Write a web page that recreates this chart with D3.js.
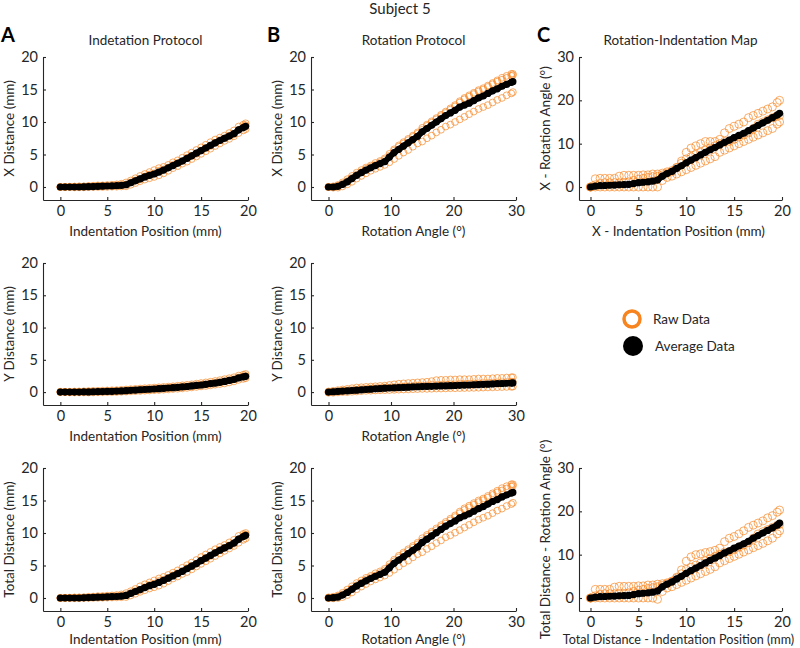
<!DOCTYPE html>
<html><head><meta charset="utf-8">
<script src="https://cdn.jsdelivr.net/npm/d3@7"></script>
<style>body{margin:0;background:#fff;} svg{display:block;font-family:Lato,"Open Sans",sans-serif;}</style>
</head><body>
<svg id="chart" width="800" height="648"></svg>
<script>
// ---------- DATA ----------
const indentPos = [0,0.5,1,1.5,2,2.5,3,3.5,4,4.5,5,5.5,6,6.5,7,7.5,8,8.5,9,9.5,10,10.5,11,11.5,12,12.5,13,13.5,14,14.5,15,15.5,16,16.5,17,17.5,18,18.5,19,19.5,19.75];
const rotAngle = [0,0.75,1.5,2.25,3,3.75,4.5,5.25,6,6.75,7.5,8.25,9,9.75,10.5,11.25,12,12.75,13.5,14.25,15,15.75,16.5,17.25,18,18.75,19.5,20.25,21,21.75,22.5,23.25,24,24.75,25.5,26.25,27,27.75,28.5,29.25,29.5];

const tickIndent = [0,5,10,15,20];
const tickRot = [0,10,20,30];
const tickDist = [0,5,10,15,20];
const tickMapY = [0,10,20,30];

// Panel A: indentation protocol
const aXAvg = [0,0,0,0,0,0.02,0.05,0.07,0.1,0.12,0.15,0.17,0.2,0.25,0.35,0.65,0.95,1.25,1.55,1.8,2.0,2.3,2.6,2.95,3.3,3.65,4.0,4.4,4.8,5.2,5.6,6.0,6.4,6.8,7.15,7.5,7.85,8.2,8.8,9.15,9.35];
const aXRaw1 = [0,0,0.05,0.05,0.1,0.1,0.15,0.2,0.25,0.25,0.3,0.35,0.4,0.5,0.7,1.0,1.35,1.7,2.0,2.3,2.6,2.9,3.1,3.4,3.8,4.1,4.5,4.9,5.3,5.7,6.1,6.5,6.9,7.3,7.6,7.9,8.3,8.7,9.3,9.6,9.8];
const aXRaw2 = [0,0,0,-0.05,-0.05,-0.05,0,0,0,0,0.02,0.05,0.05,0.08,0.1,0.35,0.6,0.9,1.15,1.35,1.55,1.8,2.1,2.5,2.9,3.2,3.6,3.9,4.3,4.7,5.1,5.5,5.9,6.3,6.7,7.1,7.4,7.8,8.3,8.7,8.9];
const aXRaw3 = [0,0.02,0.02,0.05,0.05,0.08,0.1,0.1,0.15,0.15,0.2,0.2,0.25,0.3,0.4,0.7,1.0,1.2,1.6,1.9,2.1,2.5,2.7,3.0,3.4,3.7,4.0,4.5,4.8,5.1,5.6,6.0,6.3,6.8,7.2,7.5,7.9,8.1,8.8,9.2,9.5];

const aYAvg = [0,0,0,0,0,0.02,0.03,0.05,0.06,0.08,0.1,0.12,0.15,0.18,0.22,0.27,0.32,0.36,0.4,0.44,0.48,0.53,0.58,0.63,0.68,0.74,0.8,0.87,0.95,1.03,1.1,1.2,1.3,1.4,1.52,1.65,1.8,1.95,2.2,2.35,2.45];
const aYRaw1 = [0.05,0.05,0.05,0.08,0.1,0.12,0.15,0.18,0.2,0.22,0.25,0.28,0.3,0.35,0.4,0.45,0.5,0.55,0.6,0.65,0.7,0.75,0.8,0.85,0.9,0.98,1.05,1.12,1.2,1.3,1.4,1.5,1.6,1.72,1.85,2.0,2.15,2.3,2.55,2.7,2.8];
const aYRaw2 = [0,0,-0.05,-0.05,-0.05,-0.05,-0.05,-0.05,-0.03,-0.02,0,0,0.02,0.05,0.08,0.12,0.15,0.18,0.22,0.25,0.3,0.33,0.38,0.42,0.48,0.52,0.58,0.65,0.72,0.8,0.88,0.95,1.05,1.15,1.25,1.35,1.5,1.65,1.9,2.05,2.15];
const aYRaw3 = [0,0.02,0,0.02,0.03,0.04,0.05,0.08,0.08,0.1,0.12,0.15,0.15,0.2,0.25,0.28,0.32,0.38,0.4,0.45,0.5,0.55,0.58,0.65,0.7,0.75,0.82,0.88,0.95,1.05,1.12,1.22,1.32,1.42,1.55,1.68,1.82,2.0,2.25,2.4,2.5];

const aTAvg = [0,0,0,0,0,0.03,0.06,0.09,0.12,0.15,0.18,0.2,0.23,0.28,0.4,0.7,1.0,1.3,1.6,1.9,2.1,2.4,2.7,3.05,3.4,3.75,4.1,4.5,4.9,5.3,5.75,6.15,6.55,6.95,7.35,7.7,8.05,8.45,9.05,9.45,9.65];
const aTRaw1 = [0,0.02,0.05,0.08,0.1,0.12,0.18,0.22,0.28,0.3,0.35,0.4,0.45,0.55,0.75,1.05,1.4,1.8,2.1,2.4,2.7,3.0,3.25,3.55,3.9,4.25,4.65,5.05,5.45,5.85,6.3,6.7,7.1,7.5,7.85,8.15,8.55,8.95,9.55,9.85,10.0];
const aTRaw2 = [0,0,0,-0.03,-0.03,0,0,0.02,0.03,0.05,0.06,0.08,0.1,0.12,0.15,0.4,0.65,0.95,1.2,1.45,1.65,1.9,2.2,2.6,3.0,3.3,3.7,4.0,4.4,4.85,5.25,5.65,6.05,6.45,6.85,7.25,7.6,8.0,8.5,8.95,9.15];
const aTRaw3 = [0,0.02,0.02,0.05,0.06,0.08,0.1,0.12,0.17,0.18,0.22,0.24,0.28,0.33,0.45,0.75,1.05,1.25,1.65,2.0,2.2,2.6,2.8,3.1,3.5,3.8,4.15,4.6,4.95,5.25,5.75,6.15,6.45,6.95,7.4,7.7,8.1,8.35,9.05,9.45,9.75];

// Panel B: rotation protocol
const bXAvg = [0,0,0.1,0.4,0.8,1.3,1.8,2.2,2.6,2.95,3.3,3.6,3.9,4.6,5.3,5.8,6.3,6.8,7.3,7.8,8.5,9.0,9.5,10.0,10.5,11.0,11.4,11.8,12.3,12.6,12.9,13.3,13.7,14.0,14.4,14.8,15.1,15.5,15.8,16.1,16.2];
const bXRaw1 = [0,0.1,0.3,0.7,1.2,1.7,2.2,2.6,3.0,3.3,3.7,4.0,4.4,5.1,5.8,6.4,6.9,7.4,7.9,8.4,9.1,9.6,10.1,10.6,11.1,11.6,12.1,12.6,13.2,13.7,14.1,14.5,14.9,15.2,15.6,16.0,16.4,16.8,17.1,17.4,17.4];
const bXRaw2 = [0,-0.1,-0.1,0.1,0.4,0.8,1.3,1.7,2.1,2.5,2.8,3.1,3.4,3.8,4.3,4.8,5.3,5.7,6.2,6.7,7.0,7.5,7.9,8.4,8.8,9.3,9.6,10.0,10.4,10.8,11.2,11.6,12.0,12.3,12.6,13.0,13.4,13.7,14.1,14.4,14.6];
const bXRaw3 = [0,0,0.2,0.5,0.9,1.4,1.9,2.3,2.8,3.1,3.4,3.8,4.2,4.8,5.6,6.2,6.7,7.2,7.7,8.2,8.8,9.4,9.9,10.4,10.9,11.4,11.9,12.4,13.0,13.5,13.9,14.3,14.7,15.0,15.4,15.8,16.2,16.5,16.8,17.1,17.2];

const bYAvg = [0,0.05,0.1,0.15,0.2,0.25,0.3,0.35,0.4,0.45,0.5,0.55,0.6,0.63,0.66,0.7,0.73,0.76,0.8,0.83,0.86,0.88,0.9,0.93,0.95,0.97,1.0,1.02,1.05,1.08,1.1,1.13,1.16,1.2,1.23,1.27,1.3,1.33,1.37,1.4,1.42];
const bYRaw1 = [0.1,0.2,0.3,0.4,0.5,0.6,0.7,0.75,0.8,0.85,0.9,0.95,1.0,1.1,1.2,1.3,1.35,1.4,1.45,1.5,1.55,1.6,1.7,1.85,1.9,1.9,1.95,1.95,2.0,2.0,2.0,2.05,2.1,2.1,2.1,2.15,2.2,2.2,2.25,2.3,2.3];
const bYRaw2 = [-0.1,-0.1,-0.05,0,0,0.05,0.1,0.15,0.2,0.22,0.25,0.28,0.3,0.32,0.35,0.38,0.4,0.42,0.45,0.47,0.5,0.5,0.52,0.55,0.55,0.57,0.6,0.6,0.62,0.63,0.65,0.66,0.68,0.7,0.72,0.74,0.76,0.78,0.8,0.82,0.85];
const bYRaw3 = [0,0.05,0.1,0.2,0.25,0.3,0.35,0.45,0.5,0.55,0.6,0.65,0.7,0.7,0.75,0.8,0.85,0.9,0.95,1.0,1.0,1.05,1.1,1.1,1.12,1.15,1.2,1.2,1.25,1.28,1.3,1.33,1.35,1.4,1.42,1.45,1.5,1.52,1.55,1.6,1.6];

const bTAvg = [0,0.05,0.15,0.45,0.85,1.35,1.85,2.25,2.65,3.0,3.35,3.65,3.95,4.65,5.35,5.85,6.35,6.85,7.35,7.85,8.55,9.05,9.55,10.05,10.55,11.05,11.45,11.85,12.35,12.65,12.95,13.35,13.75,14.05,14.45,14.85,15.15,15.55,15.85,16.15,16.25];
const bTRaw1 = [0.1,0.2,0.4,0.8,1.3,1.8,2.3,2.7,3.1,3.4,3.8,4.1,4.5,5.2,5.9,6.5,7.0,7.5,8.0,8.5,9.2,9.7,10.2,10.7,11.2,11.7,12.2,12.7,13.3,13.8,14.2,14.6,15.0,15.3,15.7,16.1,16.5,16.9,17.2,17.5,17.5];
const bTRaw2 = [0,-0.05,0,0.15,0.45,0.85,1.35,1.75,2.15,2.55,2.85,3.15,3.45,3.85,4.35,4.85,5.35,5.75,6.25,6.75,7.05,7.55,7.95,8.45,8.85,9.35,9.65,10.05,10.45,10.85,11.25,11.65,12.05,12.35,12.65,13.05,13.45,13.75,14.15,14.45,14.65];
const bTRaw3 = [0,0.05,0.25,0.55,0.95,1.45,1.95,2.35,2.85,3.15,3.45,3.85,4.25,4.85,5.65,6.25,6.75,7.25,7.75,8.25,8.85,9.45,9.95,10.45,10.95,11.45,11.95,12.45,13.05,13.55,13.95,14.35,14.75,15.05,15.45,15.85,16.25,16.55,16.85,17.15,17.25];

// Panel C: rotation-indentation map
const cXAvg = [0,0.2,0.3,0.35,0.4,0.45,0.5,0.55,0.6,0.8,1.0,1.1,1.2,1.35,1.6,2.5,3.1,3.6,4.3,4.9,5.6,6.2,6.8,7.4,8.0,8.6,9.1,9.7,10.3,10.8,11.4,11.9,12.4,13.0,13.6,14.2,14.8,15.4,16.0,16.6,17.0];
const cXRaw1 = [0,1.9,2.0,2.0,2.0,2.0,2.5,2.7,2.7,2.7,2.7,2.8,2.8,3.0,3.0,3.2,3.5,3.5,4.5,6.0,8.0,9.0,9.5,10.0,10.5,10.5,10.5,11.0,12.5,13.5,14.0,14.5,15.0,16.0,16.5,17.0,17.5,18.0,18.5,19.5,20.0];
const cXRaw2 = [0,0,0,0,0,0,0,0,0,0,0,0,0,0,0,1.5,2.2,2.5,3.0,3.5,4.0,4.5,5.0,5.5,6.0,6.5,7.0,8.0,8.5,9.0,9.5,10.0,10.5,11.0,11.5,12.0,12.5,13.0,13.5,14.5,15.0];
const cXRaw3 = [0,0.5,0.8,1.0,1.0,1.0,1.0,1.0,1.2,1.5,1.8,2.0,2.2,2.4,2.5,2.8,3.2,3.8,4.5,5.5,6.5,7.0,7.5,8.0,8.5,9.0,9.5,10.0,10.5,10.5,11.0,11.5,12.0,12.5,13.5,14.5,15.0,15.5,16.0,16.5,16.5];

const cTAvg = [0,0.2,0.3,0.35,0.4,0.45,0.5,0.55,0.6,0.8,1.0,1.1,1.2,1.35,1.6,2.6,3.2,3.7,4.4,5.0,5.7,6.3,6.9,7.5,8.1,8.7,9.2,9.8,10.4,10.9,11.5,12.0,12.5,13.1,13.8,14.4,15.0,15.6,16.2,16.8,17.3];
const cTRaw1 = [0,2.0,2.0,2.0,2.0,2.5,2.7,2.7,2.7,2.7,2.8,2.8,3.0,3.0,3.2,3.3,3.5,3.8,4.8,6.5,8.5,9.5,10.0,10.2,10.5,10.7,11.0,11.5,13.0,13.8,14.2,14.8,15.5,16.3,16.8,17.3,17.8,18.5,19.0,19.8,20.3];
const cTRaw2 = [0,0,0,0,0,0,0,0,0,0,0,0,0,0,-0.3,1.5,2.3,2.6,3.1,3.6,4.1,4.6,5.1,5.6,6.1,6.6,7.2,8.1,8.6,9.1,9.6,10.1,10.6,11.1,11.6,12.1,12.6,13.2,13.8,14.8,15.5];
const cTRaw3 = [0,0.5,0.8,1.0,1.0,1.0,1.0,1.0,1.2,1.5,1.8,2.0,2.2,2.4,2.6,2.9,3.3,3.9,4.6,5.6,6.6,7.1,7.6,8.1,8.6,9.1,9.6,10.1,10.6,10.7,11.2,11.7,12.2,12.8,13.8,14.8,15.3,15.8,16.3,16.8,17.0];

// ---------- LAYOUT ----------
const ORANGE = "#f7841f";
const cols = [{l:43,r:248},{l:311,r:516},{l:579,r:782}];
const rows = [{t:57,b:200,xlOff:36},{t:263,b:405,xlOff:36},{t:468,b:611,xlOff:33}];

const panels = [
  {c:0,r:0,x:indentPos,avg:aXAvg,raw:[aXRaw1,aXRaw2,aXRaw3],xd:[-1.85,20],yd:[-2,20],xt:tickIndent,yt:tickDist,xl:"Indentation Position (mm)",yl:"X Distance (mm)",rr:3.4},
  {c:0,r:1,x:indentPos,avg:aYAvg,raw:[aYRaw1,aYRaw2,aYRaw3],xd:[-1.85,20],yd:[-2,20],xt:tickIndent,yt:tickDist,xl:"Indentation Position (mm)",yl:"Y Distance (mm)",rr:3.4},
  {c:0,r:2,x:indentPos,avg:aTAvg,raw:[aTRaw1,aTRaw2,aTRaw3],xd:[-1.85,20],yd:[-2,20],xt:tickIndent,yt:tickDist,xl:"Indentation Position (mm)",yl:"Total Distance (mm)",rr:3.4},
  {c:1,r:0,x:rotAngle,avg:bXAvg,raw:[bXRaw1,bXRaw2,bXRaw3],xd:[-2.8,30],yd:[-2,20],xt:tickRot,yt:tickDist,xl:"Rotation Angle (°)",yl:"X Distance (mm)",rr:3.4},
  {c:1,r:1,x:rotAngle,avg:bYAvg,raw:[bYRaw1,bYRaw2,bYRaw3],xd:[-2.8,30],yd:[-2,20],xt:tickRot,yt:tickDist,xl:"Rotation Angle (°)",yl:"Y Distance (mm)",rr:3.4},
  {c:1,r:2,x:rotAngle,avg:bTAvg,raw:[bTRaw1,bTRaw2,bTRaw3],xd:[-2.8,30],yd:[-2,20],xt:tickRot,yt:tickDist,xl:"Rotation Angle (°)",yl:"Total Distance (mm)",rr:3.4},
  {c:2,r:0,x:indentPos,avg:cXAvg,raw:[cXRaw1,cXRaw2,cXRaw3],xd:[-1.2,20],yd:[-3,30],xt:tickIndent,yt:tickMapY,xl:"X - Indentation Position (mm)",yl:"X - Rotation Angle (°)",rr:4,xfs:13.5},
  {c:2,r:2,x:indentPos,avg:cTAvg,raw:[cTRaw1,cTRaw2,cTRaw3],xd:[-1.2,20],yd:[-3,30],xt:tickIndent,yt:tickMapY,xl:"Total Distance - Indentation Position (mm)",yl:"Total Distance - Rotation Angle (°)",rr:4,xfs:12.6}
];

const svg = d3.select("#chart");
const TXT = "#262626";
const FS = 13.5;

svg.append("text").attr("x",400).attr("y",14).attr("text-anchor","middle")
  .attr("font-size",15).attr("fill",TXT).text("Subject 5");

const colTitles = ["Indetation Protocol","Rotation Protocol","Rotation-Indentation Map"];
const letters = ["A","B","C"];
const letterX = [1,267,537];
cols.forEach((c,i)=>{
  svg.append("text").attr("x",(c.l+c.r)/2).attr("y",45).attr("text-anchor","middle")
    .attr("font-size",FS).attr("fill",TXT).text(colTitles[i]);
  svg.append("text").attr("x",letterX[i]).attr("y",42).attr("font-size",20).attr("font-weight","bold")
    .attr("fill","#000").text(letters[i]);
});

panels.forEach(p=>{
  const C = cols[p.c], R = rows[p.r];
  const x = d3.scaleLinear().domain(p.xd).range([C.l,C.r]);
  const y = d3.scaleLinear().domain(p.yd).range([R.b,R.t]);
  const g = svg.append("g");

  // raw data
  p.raw.forEach(tr=>{
    g.append("g").selectAll("circle").data(tr.map((v,i)=>[p.x[i],v])).join("circle")
      .attr("cx",d=>x(d[0])).attr("cy",d=>y(d[1])).attr("r",p.rr)
      .attr("fill","none").attr("stroke",ORANGE).attr("stroke-width",0.8).attr("stroke-opacity",0.85);
  });
  // average
  const pts = p.avg.map((v,i)=>[p.x[i],v]);
  g.append("path").datum(pts).attr("d",d3.line().x(d=>x(d[0])).y(d=>y(d[1])))
    .attr("fill","none").attr("stroke","#000").attr("stroke-width",6).attr("stroke-linejoin","round");
  g.append("g").selectAll("circle").data(pts).join("circle")
    .attr("cx",d=>x(d[0])).attr("cy",d=>y(d[1])).attr("r",3.6).attr("fill","#000");

  // axes
  const ax = g.append("g").attr("transform",`translate(0,${R.b})`)
    .call(d3.axisBottom(x).tickValues(p.xt).tickSize(-3).tickSizeOuter(0).tickPadding(6));
  const ay = g.append("g").attr("transform",`translate(${C.l},0)`)
    .call(d3.axisLeft(y).tickValues(p.yt).tickSize(-3).tickSizeOuter(0).tickPadding(5));
  [ax,ay].forEach(a=>{
    a.selectAll("path,line").attr("stroke",TXT).attr("stroke-width",1.1);
    a.selectAll("text").attr("fill",TXT).attr("font-size",14.5).attr("font-family","Lato,'Open Sans',sans-serif");
  });

  g.append("text").attr("x",(C.l+C.r)/2 - (p.c===2?2:0)).attr("y",R.b+R.xlOff).attr("text-anchor","middle")
    .attr("font-size",p.xfs||FS).attr("fill",TXT).text(p.xl);
  const lx = C.l - 29;
  g.append("text").attr("transform",`translate(${lx},${(R.t+R.b)/2}) rotate(-90)`)
    .attr("text-anchor","middle").attr("font-size",FS).attr("fill",TXT).text(p.yl);
});

// legend
const legend = svg.append("g");
legend.append("circle").attr("cx",632).attr("cy",319).attr("r",8).attr("fill","none")
  .attr("stroke",ORANGE).attr("stroke-width",3.5);
legend.append("text").attr("x",653).attr("y",324).attr("font-size",FS).attr("fill",TXT).text("Raw Data");
legend.append("circle").attr("cx",633).attr("cy",346).attr("r",10).attr("fill","#000");
legend.append("text").attr("x",655).attr("y",351).attr("font-size",FS).attr("fill",TXT).text("Average Data");
</script>
</body></html>
